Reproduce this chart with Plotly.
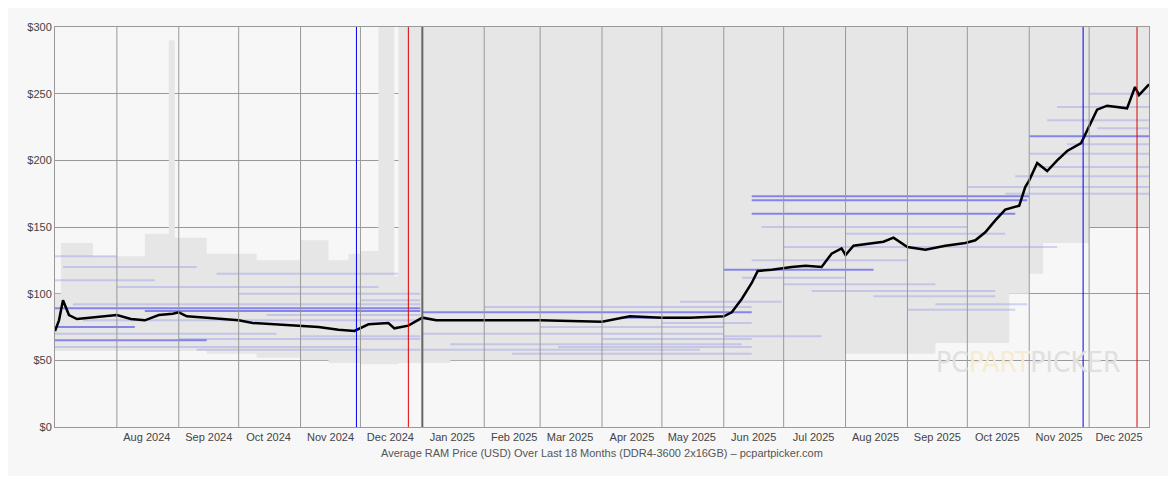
import plotly.graph_objects as go
import pandas as pd

# average price (USD)
avg_dates = ["2024-07-01", "2024-07-03", "2024-07-05", "2024-07-08", "2024-07-12", "2024-07-20",
             "2024-07-28", "2024-08-01", "2024-08-08", "2024-08-15", "2024-08-22", "2024-08-29",
             "2024-09-01", "2024-09-05", "2024-09-15", "2024-09-25", "2024-10-01", "2024-10-08",
             "2024-10-20", "2024-11-01", "2024-11-10", "2024-11-20", "2024-11-28", "2024-12-05",
             "2024-12-15", "2024-12-18", "2024-12-25", "2025-01-01", "2025-01-08", "2025-02-01",
             "2025-03-01", "2025-04-01", "2025-04-15", "2025-05-01", "2025-05-15", "2025-06-01",
             "2025-06-05", "2025-06-10", "2025-06-15", "2025-06-18", "2025-06-25", "2025-07-05",
             "2025-07-12", "2025-07-20", "2025-07-25", "2025-07-30", "2025-08-01", "2025-08-05",
             "2025-08-20", "2025-08-25", "2025-09-01", "2025-09-10", "2025-09-20", "2025-09-30",
             "2025-10-05", "2025-10-10", "2025-10-15", "2025-10-20", "2025-10-27", "2025-10-30",
             "2025-11-01", "2025-11-05", "2025-11-10", "2025-11-15", "2025-11-20", "2025-11-27",
             "2025-12-01", "2025-12-05", "2025-12-10", "2025-12-20", "2025-12-24", "2025-12-26",
             "2025-12-31"]
avg_price = [72, 80, 95, 84, 81, 82, 83, 84, 81, 80, 84, 85,
             86, 83, 82, 81, 80, 78, 77, 76, 75, 73, 72, 77,
             78, 74, 76, 82, 80, 80, 80, 79, 83, 82, 82, 83,
             86, 96, 108, 117, 118, 120, 121, 120, 130, 134, 129, 136,
             139, 142, 135, 133, 136, 138, 140, 146, 155, 163, 166, 180,
             185, 198, 192, 200, 207, 213, 225, 238, 241, 239, 255, 249,
             257]

# min / max range (grey) breakpoints
rng_dates = ["2024-07-01", "2024-07-04", "2024-07-20", "2024-08-15", "2024-08-27", "2024-08-30",
             "2024-09-15", "2024-10-10", "2024-11-01", "2024-11-15", "2024-11-25", "2024-12-01",
             "2024-12-10", "2024-12-18", "2024-12-20", "2025-01-15", "2025-06-01", "2025-06-20",
             "2025-08-01", "2025-09-15", "2025-10-15", "2025-10-22", "2025-11-01", "2025-11-08",
             "2025-12-01", "2025-12-31"]
rng_low = [57, 57, 57, 57, 57, 57, 55, 52, 50, 48, 48, 47, 47, 47, 48, 50, 50, 50,
           55, 63, 63, 100, 115, 138, 150, 174]
rng_high = [100, 138, 128, 145, 290, 142, 130, 125, 140, 125, 130, 132, 300, 113, 300, 300,
            300, 300, 300, 300, 300, 300, 300, 300, 300, 300]

# individual listings (start, end, price, strength)
seg_start = ["2024-07-01", "2024-07-01", "2024-07-01", "2024-07-01", "2024-07-01", "2024-07-10",
             "2024-08-15", "2024-07-01", "2024-07-15", "2024-09-01", "2024-09-10", "2024-10-01",
             "2024-07-05", "2024-08-01", "2024-10-15", "2024-11-01", "2024-07-01", "2024-09-20",
             "2024-12-01", "2025-01-01", "2025-01-01", "2025-01-15", "2025-02-01", "2025-01-01",
             "2025-03-01", "2025-04-01", "2025-04-10", "2025-05-01", "2025-05-10", "2025-06-15",
             "2025-06-15", "2025-06-15", "2025-06-20", "2025-06-10", "2025-07-01", "2025-07-15",
             "2025-08-01", "2025-08-15", "2025-09-01", "2025-09-15", "2025-06-15", "2025-07-01",
             "2025-10-01", "2025-10-20", "2025-11-01", "2025-11-01", "2025-11-10", "2025-11-05",
             "2025-11-15", "2025-12-01", "2025-12-05", "2025-11-20", "2025-10-25", "2025-06-01",
             "2025-06-01", "2025-02-15", "2025-03-10"]
seg_end = ["2024-08-10", "2024-09-15", "2024-12-31", "2024-10-20", "2024-11-30", "2024-12-31",
           "2024-12-31", "2024-08-20", "2024-12-31", "2024-12-31", "2024-12-31", "2024-12-31",
           "2024-09-10", "2024-12-10", "2024-12-31", "2024-12-31", "2024-08-01", "2024-12-20",
           "2024-12-31", "2025-06-15", "2025-06-01", "2025-06-10", "2025-06-15", "2025-05-20",
           "2025-06-01", "2025-06-15", "2025-05-15", "2025-06-15", "2025-06-30", "2025-11-01",
           "2025-10-31", "2025-10-25", "2025-10-01", "2025-08-01", "2025-09-15", "2025-10-15",
           "2025-10-20", "2025-10-15", "2025-10-25", "2025-10-31", "2025-09-01", "2025-11-15",
           "2025-12-31", "2025-12-31", "2025-12-31", "2025-12-31", "2025-12-31", "2025-12-31",
           "2025-12-31", "2025-12-31", "2025-12-31", "2025-12-31", "2025-12-31", "2025-08-15",
           "2025-07-20", "2025-06-15", "2025-06-15"]
seg_price = [75, 65, 89, 70, 60, 92, 87, 110, 80, 66, 58, 100,
             120, 105, 84, 68, 128, 115,
             95, 86, 70, 62, 90, 58, 75, 66, 82, 78, 94, 173,
             170, 160, 150, 112, 107, 102, 145, 98, 88, 92, 125, 135,
             180, 175, 218, 205, 230, 195, 240, 250, 224, 212, 188, 118,
             68, 55, 60]
seg_strength = [2, 2, 2, 1, 1, 1, 2, 1, 1, 1, 1, 1, 1, 1, 1, 1, 1, 1,
                1, 2, 1, 1, 1, 1, 1, 1, 2, 1, 1, 2, 2, 2, 1, 1, 1, 1, 1, 1, 1, 1, 1, 1,
                1, 1, 2, 1, 1, 1, 1, 1, 1, 1, 1, 2, 1, 1, 1]

month_starts = pd.date_range("2024-08-01", "2025-12-01", freq="MS")
label_dates = month_starts + pd.Timedelta(days=15)
special = [("2024-11-29", "#0000ee"), ("2024-12-25", "#dd0000"),
           ("2025-11-28", "#0000ee"), ("2025-12-25", "#dd0000")]

fig = go.Figure()

# grey min/max range
fig.add_trace(go.Scatter(x=rng_dates, y=rng_low, mode="lines", line=dict(width=0, shape="hv"),
                         hoverinfo="skip", showlegend=False))
fig.add_trace(go.Scatter(x=rng_dates, y=rng_high, mode="lines", line=dict(width=0, shape="hv"),
                         fill="tonexty", fillcolor="#e6e6e6", hoverinfo="skip", showlegend=False))

# listing segments
for strength, col in [(1, "rgba(110,110,235,0.28)"), (2, "rgba(80,80,235,0.65)")]:
    xs, ys = [], []
    for s, e, p, k in zip(seg_start, seg_end, seg_price, seg_strength):
        if k == strength:
            xs += [s, e, None]
            ys += [p, p, None]
    fig.add_trace(go.Scatter(x=xs, y=ys, mode="lines", line=dict(width=2, color=col),
                             hoverinfo="skip", showlegend=False))

# month grid
for m in month_starts:
    fig.add_vline(x=m, line=dict(color="#666" if m.month == 1 else "#999",
                                 width=2 if m.month == 1 else 1), layer="above")
for d, c in special:
    fig.add_vline(x=d, line=dict(color=c, width=1), layer="above")

fig.add_trace(go.Scatter(x=avg_dates, y=avg_price, mode="lines",
                         line=dict(color="black", width=2.5), showlegend=False))

fig.add_annotation(x=0.975, y=0.115, xref="paper", yref="paper", showarrow=False, xanchor="right",
                   text="PC<span style='color:#f6ecd2'>PART</span>PICKER",
                   font=dict(family="DejaVu Sans Condensed, DejaVu Sans", size=28, color="#e0e0e0"))
fig.add_annotation(x=0.5, y=-0.045, xref="paper", yref="paper", showarrow=False, yanchor="top",
                   text="Average RAM Price (USD) Over Last 18 Months (DDR4-3600 2x16GB) – pcpartpicker.com",
                   font=dict(family="Liberation Sans", size=11, color="#555"))

fig.update_layout(
    width=1160, height=468, margin=dict(l=47, r=19, t=19, b=49),
    paper_bgcolor="#f7f7f7", plot_bgcolor="#f7f7f7",
    font=dict(family="Liberation Sans", size=11, color="#444"),
    xaxis=dict(range=["2024-07-01", "2025-12-31"], tickvals=label_dates,
               ticktext=[d.strftime("%b %Y") for d in label_dates], ticks="",
               showgrid=False, showline=True, linecolor="#999", mirror=True, zeroline=False),
    yaxis=dict(range=[0, 300], tickvals=[0, 50, 100, 150, 200, 250, 300],
               ticktext=["$0", "$50", "$100", "$150", "$200", "$250", "$300"],
               gridcolor="#999", showline=True, linecolor="#999", mirror=True, zeroline=False),
)
fig.write_html("out.html")
